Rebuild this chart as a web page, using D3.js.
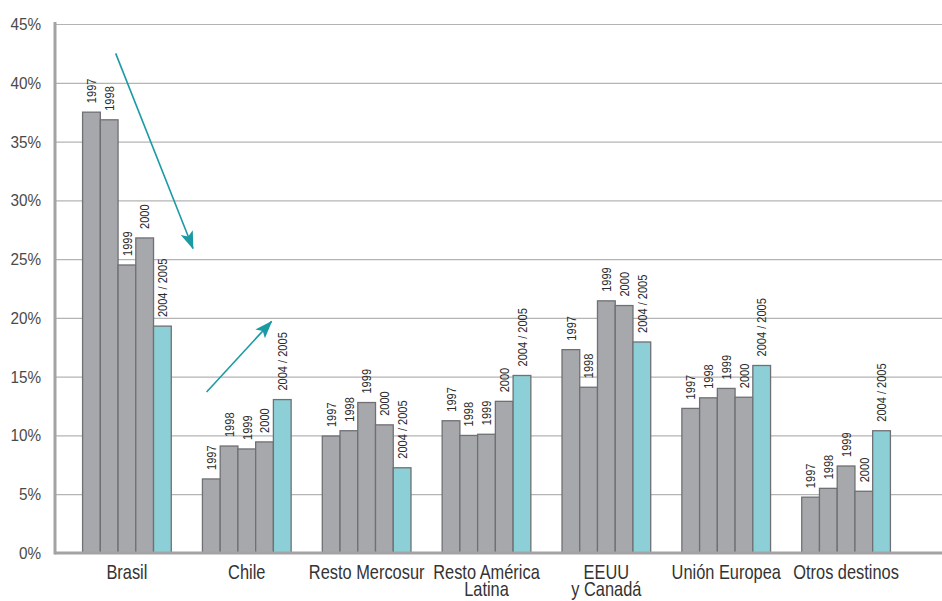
<!DOCTYPE html>
<html>
<head>
<meta charset="utf-8">
<script src="https://cdn.jsdelivr.net/npm/d3@7"></script>
<style>
  body { margin: 0; background: #fff; }
  text { font-family: "Liberation Sans", Arial, Helvetica, sans-serif; }
</style>
</head>
<body>
<svg id="chart" width="942" height="601"></svg>
<script>
// Export destinations (share of total, %)
const categories = ["Brasil", "Chile", "Resto Mercosur", "Resto América\nLatina", "EEUU\ny Canadá", "Unión Europea", "Otros destinos"];
const periods = ["1997", "1998", "1999", "2000", "2004 / 2005"];

const v1997 = [37.5, 6.3, 9.95, 11.25, 17.3, 12.3, 4.75];
const v1998 = [36.85, 9.1, 10.4, 10.0, 14.1, 13.2, 5.5];
const v1999 = [24.5, 8.85, 12.8, 10.1, 21.45, 14.0, 7.4];
const v2000 = [26.8, 9.45, 10.9, 12.9, 21.05, 13.25, 5.25];
const v2004 = [19.3, 13.05, 7.25, 15.1, 17.95, 15.95, 10.4];
const series = [v1997, v1998, v1999, v2000, v2004];

const yTicks = [0, 5, 10, 15, 20, 25, 30, 35, 40, 45];

// Trend arrows: position inside a category band (fraction of band width) and value (%)
const arrows = [
  { cat: "Brasil", x0: 0.373, v0: 42.5, x1: 1.245, v1: 25.9 },
  { cat: "Chile",  x0: 0.047, v0: 13.7, x1: 0.78,  v1: 19.7 }
];

const svg = d3.select("#chart");
const plotLeft = 55, plotRight = 942, plotTop = 24, plotBottom = 553;
const narrow = 0.82; // horizontal squeeze giving a condensed face

const y = d3.scaleLinear().domain([0, 45]).range([plotBottom, plotTop]);
const x = d3.scaleBand().domain(categories).range([67, 906]).paddingInner(0.26).paddingOuter(0.13);
const xi = d3.scaleBand().domain(periods).range([0, x.bandwidth()]);

const greyFill = "#a7a8ac", tealFill = "#8dcfd6", barStroke = "#6f7074";
const arrowColor = "#1b9aa4";

// Gridlines and y tick labels
const yAxis = d3.axisLeft(y)
  .tickValues(yTicks)
  .tickSize(-(plotRight - plotLeft))
  .tickPadding(14)
  .tickFormat(d => d + "%");

const ga = svg.append("g").attr("transform", `translate(${plotLeft},0)`).call(yAxis);
ga.select(".domain").remove();
ga.selectAll(".tick line").attr("stroke", "#b4b4b4").attr("stroke-width", 1.2);
ga.selectAll(".tick text")
  .attr("x", 0)
  .attr("transform", "translate(-14,0) scale(0.9,1)")
  .attr("fill", "#4a4a4a")
  .style("font-size", "17px");

// Bars
const groups = svg.append("g").selectAll("g")
  .data(categories)
  .join("g")
  .attr("transform", d => `translate(${x(d)},0)`);

groups.selectAll("rect")
  .data((c, ci) => periods.map((p, pi) => ({ p, pi, v: series[pi][ci] })))
  .join("rect")
  .attr("x", d => xi(d.p))
  .attr("y", d => y(d.v))
  .attr("width", xi.bandwidth())
  .attr("height", d => y(0) - y(d.v))
  .attr("fill", d => d.pi === periods.length - 1 ? tealFill : greyFill)
  .attr("stroke", barStroke)
  .attr("stroke-width", 1.3);

// Period labels above each bar
groups.selectAll("text.period")
  .data((c, ci) => periods.map((p, pi) => ({ p, v: series[pi][ci] })))
  .join("text")
  .attr("class", "period")
  .attr("transform", d => `translate(${xi(d.p) + xi.bandwidth() / 2},${y(d.v) - 9}) rotate(-90) scale(${narrow},1)`)
  .attr("dy", "0.35em")
  .attr("text-anchor", "start")
  .attr("fill", "#2b2b2b")
  .style("font-size", "13.5px")
  .text(d => d.p);

// Axis lines
svg.append("line")
  .attr("x1", plotLeft).attr("x2", plotLeft).attr("y1", plotTop - 2).attr("y2", plotBottom + 1.5)
  .attr("stroke", "#a3a3a6").attr("stroke-width", 3);
svg.append("line")
  .attr("x1", plotLeft).attr("x2", plotRight).attr("y1", plotBottom).attr("y2", plotBottom)
  .attr("stroke", "#a3a3a6").attr("stroke-width", 3);

// Category labels
const catLabels = svg.append("g").selectAll("text")
  .data(categories)
  .join("text")
  .attr("transform", d => `translate(${x(d) + x.bandwidth() / 2},579) scale(${narrow},1)`)
  .attr("text-anchor", "middle")
  .attr("fill", "#333")
  .style("font-size", "20px");
catLabels.selectAll("tspan")
  .data(d => d.split("\n"))
  .join("tspan")
  .attr("x", 0)
  .attr("dy", (d, i) => i === 0 ? 0 : 17)
  .text(d => d);

// Trend arrows
svg.append("defs").append("marker")
  .attr("id", "arrowhead")
  .attr("markerUnits", "userSpaceOnUse")
  .attr("viewBox", "0 -7 18 14")
  .attr("refX", 17).attr("refY", 0)
  .attr("markerWidth", 18).attr("markerHeight", 14)
  .attr("orient", "auto")
  .append("path")
  .attr("d", "M0,-6.5L18,0L0,6.5L4,0Z")
  .attr("fill", arrowColor);

svg.append("g").selectAll("line")
  .data(arrows)
  .join("line")
  .attr("x1", d => x(d.cat) + d.x0 * x.bandwidth())
  .attr("y1", d => y(d.v0))
  .attr("x2", d => x(d.cat) + d.x1 * x.bandwidth())
  .attr("y2", d => y(d.v1))
  .attr("stroke", arrowColor)
  .attr("stroke-width", 1.6)
  .attr("marker-end", "url(#arrowhead)");
</script>
</body>
</html>
